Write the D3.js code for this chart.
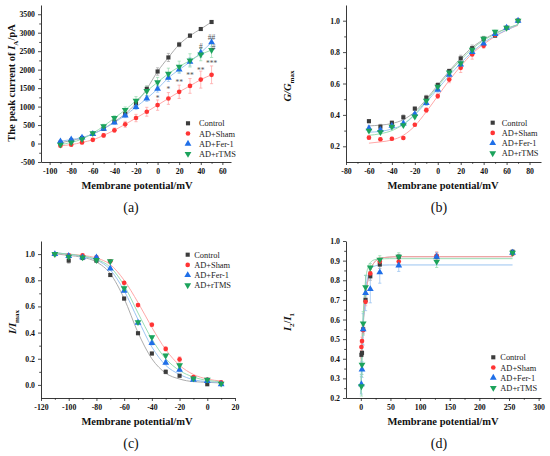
<!DOCTYPE html>
<html>
<head>
<meta charset="utf-8">
<script src="https://cdn.jsdelivr.net/npm/d3@7"></script>
<style>
body { margin: 0; background: #fff; }
</style>
</head>
<body>
<div id="figure"></div>
<script>
var SERIF = "'Liberation Serif', 'Times New Roman', Times, serif";

var groups = ["Control", "AD+Sham", "AD+Fer-1", "AD+rTMS"];
var markColours = ["#3c3c3c", "#ff3434", "#1f6fe8", "#1ca35c"];
var lineColours = ["#a3a3a3", "#ff9d9d", "#8fbdef", "#8fd9ab"];

// (a) peak current of IA
var volt_a = [-90, -80, -70, -60, -50, -40, -30, -20, -10, 0, 10, 20, 30, 40, 50];
var a_control = [20, 80, 150, 260, 400, 590, 800, 1090, 1480, 1950, 2330, 2680, 2920, 3100, 3290];
var a_control_err = [30, 30, 30, 30, 40, 50, 60, 80, 80, 100, 110, 60, 50, 40, 40];
var a_sham = [-60, -30, 30, 100, 220, 360, 520, 690, 860, 1040, 1220, 1400, 1560, 1730, 1860];
var a_sham_err = [30, 30, 40, 40, 50, 60, 80, 100, 120, 140, 160, 180, 200, 230, 240];
var a_fer = [60, 110, 160, 260, 400, 570, 760, 990, 1220, 1480, 1780, 2000, 2210, 2460, 2740];
var a_fer_err = [30, 30, 30, 40, 40, 50, 60, 70, 80, 90, 100, 100, 110, 120, 120];
var a_rtms = [-30, 30, 120, 280, 470, 690, 910, 1160, 1420, 1660, 1890, 2080, 2250, 2410, 2530];
var a_rtms_err = [30, 30, 40, 40, 50, 60, 80, 110, 130, 130, 150, 150, 180, 170, 200];
var a_xticks = [-100, -80, -60, -40, -20, 0, 20, 40, 60];
var a_yticks = [-500, 0, 500, 1000, 1500, 2000, 2500, 3000, 3500];
var annot_x = [0, 10, 20, 30, 40, 50, 50, 40, 52];
var annot_y = [1253, 1490, 1670, 1875, 2010, 2190, 2885, 2660, 2635];
var annot_text = ["*", "*", "**", "**", "**", "***", "##", "#", "#"];

// (b) G/Gmax
var volt_b = [-60, -50, -40, -30, -20, -10, 0, 10, 20, 30, 40, 50, 60, 70];
var b_control = [0.36, 0.325, 0.35, 0.385, 0.44, 0.51, 0.59, 0.68, 0.76, 0.825, 0.885, 0.905, 0.955, 1.0];
var b_control_err = [0.01, 0.015, 0.01, 0.015, 0.01, 0.015, 0.015, 0.01, 0.02, 0.02, 0.015, 0.01, 0.005, 0];
var b_sham = [0.255, 0.245, 0.248, 0.253, 0.337, 0.43, 0.52, 0.625, 0.70, 0.785, 0.84, 0.91, 0.955, 1.0];
var b_sham_err = [0.01, 0.01, 0.01, 0.01, 0.01, 0.015, 0.015, 0.02, 0.03, 0.03, 0.015, 0.01, 0.005, 0];
var b_fer = [0.315, 0.305, 0.33, 0.345, 0.405, 0.475, 0.56, 0.655, 0.72, 0.80, 0.855, 0.915, 0.955, 1.0];
var b_fer_err = [0.015, 0.015, 0.015, 0.015, 0.01, 0.015, 0.015, 0.015, 0.02, 0.02, 0.015, 0.01, 0.005, 0];
var b_rtms = [0.30, 0.29, 0.325, 0.335, 0.39, 0.49, 0.58, 0.67, 0.73, 0.815, 0.885, 0.93, 0.955, 1.0];
var b_rtms_err = [0.01, 0.01, 0.01, 0.01, 0.01, 0.015, 0.015, 0.015, 0.02, 0.02, 0.015, 0.01, 0.005, 0];
var b_fit_x = [-60, -50, -40, -30, -20, -10, 0, 10, 20, 30, 40, 50, 60, 70];
var b_fit_control = [0.33, 0.335, 0.345, 0.37, 0.42, 0.50, 0.59, 0.68, 0.76, 0.83, 0.88, 0.92, 0.95, 0.975];
var b_fit_sham = [0.22, 0.228, 0.24, 0.27, 0.33, 0.42, 0.52, 0.62, 0.71, 0.79, 0.85, 0.90, 0.94, 0.97];
var b_fit_fer = [0.29, 0.295, 0.31, 0.34, 0.40, 0.48, 0.565, 0.65, 0.73, 0.80, 0.86, 0.905, 0.94, 0.975];
var b_fit_rtms = [0.27, 0.28, 0.30, 0.34, 0.405, 0.49, 0.58, 0.67, 0.75, 0.82, 0.875, 0.915, 0.95, 0.975];
var b_xticks = [-80, -60, -40, -20, 0, 20, 40, 60, 80];
var b_yticks = [0.2, 0.4, 0.6, 0.8, 1.0];

// (c) I/Imax
var volt_c = [-110, -100, -90, -80, -70, -60, -50, -40, -30, -20, -10, 0, 10];
var c_control = [1.0, 0.95, 0.97, 0.95, 0.84, 0.66, 0.395, 0.24, 0.10, 0.07, 0.05, 0.005, 0.01];
var c_control_err = [0, 0.02, 0.01, 0.01, 0.01, 0.01, 0.01, 0.01, 0.015, 0.01, 0.01, 0.005, 0.005];
var c_sham = [1.0, 0.99, 0.99, 0.975, 0.945, 0.78, 0.61, 0.46, 0.275, 0.195, 0.06, 0.04, 0.02];
var c_sham_err = [0, 0.01, 0.01, 0.01, 0.01, 0.01, 0.01, 0.015, 0.015, 0.02, 0.01, 0.005, 0.005];
var c_fer = [1.0, 0.985, 0.975, 0.975, 0.89, 0.72, 0.475, 0.32, 0.17, 0.115, 0.04, 0.03, 0.005];
var c_fer_err = [0, 0.01, 0.01, 0.01, 0.01, 0.01, 0.01, 0.015, 0.015, 0.015, 0.01, 0.005, 0.005];
var c_rtms = [1.0, 0.98, 0.975, 0.955, 0.945, 0.74, 0.48, 0.365, 0.225, 0.15, 0.05, 0.04, 0.01];
var c_rtms_err = [0, 0.01, 0.01, 0.01, 0.01, 0.015, 0.01, 0.01, 0.01, 0.015, 0.01, 0.005, 0.005];
var c_fit_x = [-112, -100, -90, -80, -70, -60, -50, -40, -30, -20, -10, 0, 10];
var c_fit_control = [1.005, 0.99, 0.975, 0.94, 0.85, 0.66, 0.40, 0.20, 0.09, 0.045, 0.025, 0.02, 0.015];
var c_fit_sham = [1.01, 1.0, 0.99, 0.97, 0.92, 0.80, 0.63, 0.44, 0.27, 0.15, 0.08, 0.045, 0.03];
var c_fit_fer = [1.01, 1.0, 0.98, 0.955, 0.88, 0.72, 0.50, 0.29, 0.15, 0.08, 0.04, 0.025, 0.02];
var c_fit_rtms = [1.01, 1.0, 0.985, 0.96, 0.90, 0.76, 0.55, 0.35, 0.20, 0.11, 0.06, 0.035, 0.025];
var c_xticks = [-120, -100, -80, -60, -40, -20, 0, 20];
var c_yticks = [0.0, 0.2, 0.4, 0.6, 0.8, 1.0];

// (d) I2/I1 recovery
var time_d = [1, 2, 4, 8, 16, 32, 64, 128, 256];
var d_control = [0.42, 0.43, 0.55, 0.70, 0.82, 0.88, 0.92, 0.92, 0.945];
var d_control_err = [0.01, 0.01, 0.02, 0.02, 0.02, 0.02, 0.01, 0.02, 0.01];
var d_sham = [0.46, 0.49, 0.545, 0.69, 0.835, 0.895, 0.895, 0.925, 0.935];
var d_sham_err = [0.02, 0.02, 0.02, 0.02, 0.02, 0.02, 0.02, 0.02, 0.01];
var d_fer = [0.27, 0.345, 0.55, 0.735, 0.755, 0.84, 0.875, 0.92, 0.94];
var d_fer_err = [0.05, 0.04, 0.08, 0.09, 0.07, 0.055, 0.03, 0.02, 0.01];
var d_rtms = [0.26, 0.37, 0.58, 0.765, 0.865, 0.905, 0.92, 0.895, 0.94];
var d_rtms_err = [0.05, 0.05, 0.06, 0.06, 0.02, 0.02, 0.02, 0.03, 0.01];
var d_fit_x = [0, 2, 4, 6, 8, 12, 16, 24, 32, 48, 64, 256];
var d_fit_control = [0.36, 0.47, 0.57, 0.65, 0.72, 0.80, 0.85, 0.895, 0.912, 0.918, 0.92, 0.92];
var d_fit_sham = [0.40, 0.50, 0.59, 0.66, 0.72, 0.80, 0.85, 0.895, 0.91, 0.918, 0.92, 0.92];
var d_fit_fer = [0.22, 0.42, 0.58, 0.68, 0.75, 0.82, 0.855, 0.873, 0.877, 0.878, 0.878, 0.878];
var d_fit_rtms = [0.22, 0.45, 0.62, 0.73, 0.80, 0.865, 0.89, 0.905, 0.908, 0.91, 0.91, 0.91];
var d_xticks = [0, 50, 100, 150, 200, 250, 300];
var d_yticks = [0.2, 0.3, 0.4, 0.5, 0.6, 0.7, 0.8, 0.9, 1.0];


// plain hyphen for negatives, like the original figure
var locale = d3.formatLocale({ decimal: ".", thousands: "", grouping: [3], currency: ["", ""], minus: "-" });

var svg = d3.select("#figure").append("svg")
    .attr("width", 550)
    .attr("height", 456)
    .attr("font-family", SERIF);

function zip(xs, ys) {
    return xs.map(function (x, i) { return [x, ys[i]]; });
}

function symbolFor(i) {
    var types = [d3.symbolSquare, d3.symbolCircle, d3.symbolTriangle, d3.symbolTriangle];
    var sizes = [17, 17, 20, 20];
    return d3.symbol().type(types[i]).size(sizes[i]);
}

function drawMarker(g, i, x, y) {
    g.append("path")
        .attr("d", symbolFor(i)())
        .attr("transform", "translate(" + x + "," + y + ")" + (i == 3 ? " rotate(180)" : ""))
        .attr("fill", markColours[i]);
}

function serifText(sel, size, bold) {
    return sel.style("font-family", SERIF)
        .style("font-size", size + "px")
        .style("font-weight", bold ? "bold" : "normal");
}

function drawPanel(p) {
    var g = svg.append("g");
    var x = d3.scaleLinear().domain(p.xDomain).range([p.left, p.right]);
    var y = d3.scaleLinear().domain(p.yDomain).range([p.bottom, p.top]);

    // minor ticks first, between the majors
    var xMinor = [], yMinor = [];
    for (var i = 0; i < p.xTicks.length - 1; i++) xMinor.push((p.xTicks[i] + p.xTicks[i + 1]) / 2);
    for (var j = 0; j < p.yTicks.length - 1; j++) yMinor.push((p.yTicks[j] + p.yTicks[j + 1]) / 2);

    g.append("g")
        .attr("transform", "translate(0," + p.bottom + ")")
        .call(d3.axisBottom(x).tickValues(xMinor).tickSize(1.8).tickSizeOuter(0).tickFormat(""))
        .select(".domain").remove();
    g.append("g")
        .attr("transform", "translate(" + p.left + ",0)")
        .call(d3.axisLeft(y).tickValues(yMinor).tickSize(1.8).tickSizeOuter(0).tickFormat(""))
        .select(".domain").remove();

    var xAxis = g.append("g")
        .attr("transform", "translate(0," + p.bottom + ")")
        .call(d3.axisBottom(x).tickValues(p.xTicks).tickSize(3).tickSizeOuter(0).tickPadding(3).tickFormat(locale.format("d")));
    var yAxis = g.append("g")
        .attr("transform", "translate(" + p.left + ",0)")
        .call(d3.axisLeft(y).tickValues(p.yTicks).tickSize(3).tickSizeOuter(0).tickPadding(3).tickFormat(locale.format(p.yFormat)));

    [xAxis, yAxis].forEach(function (ax) {
        ax.attr("font-family", SERIF);
        serifText(ax.selectAll("text"), 7.8, true).attr("fill", "#111");
        ax.select(".domain").attr("stroke", "#222").attr("stroke-width", 0.9);
    });
    g.selectAll("line").attr("stroke", "#222").attr("stroke-width", 0.8);

    // curves
    var line = d3.line()
        .x(function (d) { return x(d[0]); })
        .y(function (d) { return y(d[1]); })
        .curve(d3.curveMonotoneX);

    p.series.forEach(function (s, i) {
        var pts = s.fit ? zip(p.fitX, s.fit) : zip(p.xs, s.ys);
        g.append("path")
            .datum(pts)
            .attr("d", line)
            .attr("fill", "none")
            .attr("stroke", lineColours[i])
            .attr("stroke-width", 0.9);
    });

    // error bars
    p.series.forEach(function (s, i) {
        var eg = g.append("g").attr("stroke", lineColours[i]).attr("stroke-width", 0.7);
        p.xs.forEach(function (xv, k) {
            var e = s.err[k];
            if (!e) return;
            var cx = x(xv), y1 = y(s.ys[k] - e), y2 = y(s.ys[k] + e);
            eg.append("line").attr("x1", cx).attr("x2", cx).attr("y1", y1).attr("y2", y2);
            eg.append("line").attr("x1", cx - 1.6).attr("x2", cx + 1.6).attr("y1", y1).attr("y2", y1);
            eg.append("line").attr("x1", cx - 1.6).attr("x2", cx + 1.6).attr("y1", y2).attr("y2", y2);
        });
    });

    // markers
    p.series.forEach(function (s, i) {
        p.xs.forEach(function (xv, k) {
            drawMarker(g, i, x(xv), y(s.ys[k]));
        });
    });

    // legend
    groups.forEach(function (name, i) {
        var ly = p.legendY + i * 10.2;
        drawMarker(g, i, p.legendX, ly);
        serifText(g.append("text"), 8.4, false)
            .attr("x", p.legendX + p.legendGap)
            .attr("y", ly + 3)
            .attr("fill", "#222")
            .text(name);
    });

    // axis titles
    serifText(g.append("text"), 10.5, true)
        .attr("x", p.xTitleX)
        .attr("y", p.bottom + 27)
        .attr("text-anchor", "middle")
        .attr("fill", "#111")
        .text("Membrane potential/mV");

    var yt = serifText(g.append("text"), 10.5, true)
        .attr("transform", "translate(" + p.yTitleX + "," + p.yTitleY + ") rotate(-90)")
        .attr("text-anchor", "middle")
        .attr("fill", "#111");
    p.yTitle.forEach(function (part) {
        var ts = yt.append("tspan").text(part.t);
        if (part.italic) ts.style("font-style", "italic");
        if (part.sub) ts.attr("dy", 2.5).style("font-size", "7px");
        if (part.up) ts.attr("dy", -2.5);
    });

    // panel letter
    serifText(g.append("text"), 14, false)
        .attr("x", p.letterX)
        .attr("y", p.bottom + 50)
        .attr("text-anchor", "middle")
        .attr("fill", "#111")
        .text(p.letter);

    return { g: g, x: x, y: y };
}

var pa = drawPanel({
    left: 41, right: 231, top: 5, bottom: 162,
    xDomain: [-108, 68], yDomain: [-500, 3750],
    xTicks: a_xticks, yTicks: a_yticks, yFormat: "d",
    xs: volt_a,
    series: [
        { ys: a_control, err: a_control_err },
        { ys: a_sham, err: a_sham_err },
        { ys: a_fer, err: a_fer_err },
        { ys: a_rtms, err: a_rtms_err }
    ],
    legendX: 188, legendGap: 11, legendY: 123.3,
    xTitleX: 137, yTitleX: 15, yTitleY: 83,
    yTitle: [{ t: "The peak current of " }, { t: "I", italic: true }, { t: "A", sub: true }, { t: "/pA", up: true }],
    letterX: 131, letter: "(a)"
});

// significance marks on (a)
annot_text.forEach(function (t, i) {
    serifText(pa.g.append("text"), 7.5, false)
        .attr("x", pa.x(annot_x[i]))
        .attr("y", pa.y(annot_y[i]) + 3.5)
        .attr("text-anchor", "middle")
        .attr("fill", "#555")
        .text(t);
});

drawPanel({
    left: 346, right: 541, top: 5, bottom: 162,
    xDomain: [-80, 90], yDomain: [0.1, 1.1],
    xTicks: b_xticks, yTicks: b_yticks, yFormat: ".1f",
    xs: volt_b, fitX: b_fit_x,
    series: [
        { ys: b_control, err: b_control_err, fit: b_fit_control },
        { ys: b_sham, err: b_sham_err, fit: b_fit_sham },
        { ys: b_fer, err: b_fer_err, fit: b_fit_fer },
        { ys: b_rtms, err: b_rtms_err, fit: b_fit_rtms }
    ],
    legendX: 492.7, legendGap: 9, legendY: 122.7,
    xTitleX: 443, yTitleX: 291, yTitleY: 86,
    yTitle: [{ t: "G/G", italic: true }, { t: "max", sub: true }],
    letterX: 439, letter: "(b)"
});

drawPanel({
    left: 41, right: 235, top: 241, bottom: 398,
    xDomain: [-120, 20], yDomain: [-0.1, 1.1],
    xTicks: c_xticks, yTicks: c_yticks, yFormat: ".1f",
    xs: volt_c, fitX: c_fit_x,
    series: [
        { ys: c_control, err: c_control_err, fit: c_fit_control },
        { ys: c_sham, err: c_sham_err, fit: c_fit_sham },
        { ys: c_fer, err: c_fer_err, fit: c_fit_fer },
        { ys: c_rtms, err: c_rtms_err, fit: c_fit_rtms }
    ],
    legendX: 187.7, legendGap: 6.5, legendY: 254.7,
    xTitleX: 137, yTitleX: 16, yTitleY: 322,
    yTitle: [{ t: "I/I", italic: true }, { t: "max", sub: true }],
    letterX: 131, letter: "(c)"
});

drawPanel({
    left: 346, right: 541, top: 241, bottom: 398,
    xDomain: [-25, 304], yDomain: [0.2, 1.0],
    xTicks: d_xticks, yTicks: d_yticks, yFormat: ".1f",
    xs: time_d, fitX: d_fit_x,
    series: [
        { ys: d_control, err: d_control_err, fit: d_fit_control },
        { ys: d_sham, err: d_sham_err, fit: d_fit_sham },
        { ys: d_fer, err: d_fer_err, fit: d_fit_fer },
        { ys: d_rtms, err: d_rtms_err, fit: d_fit_rtms }
    ],
    legendX: 493.3, legendGap: 7, legendY: 357.3,
    xTitleX: 443, yTitleX: 291, yTitleY: 322,
    yTitle: [{ t: "I", italic: true }, { t: "2", sub: true }, { t: "/", up: true }, { t: "I", italic: true }, { t: "1", sub: true }],
    letterX: 439, letter: "(d)"
});
</script>
</body>
</html>
